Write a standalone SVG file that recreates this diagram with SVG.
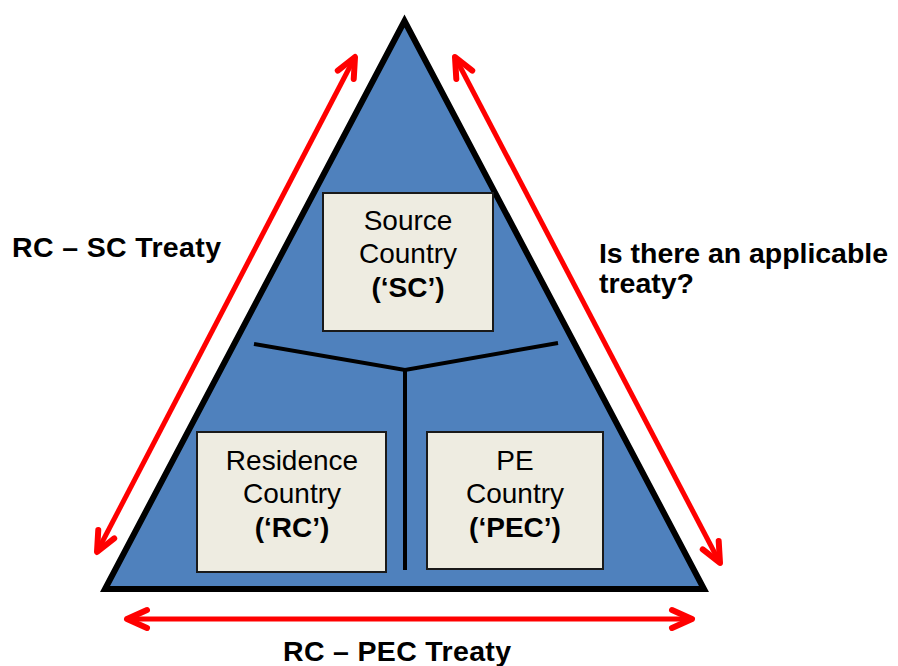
<svg xmlns="http://www.w3.org/2000/svg" width="898" height="666" viewBox="0 0 898 666">
<style>
.box{fill:#EEECE1;stroke:#1a1a1a;stroke-width:2}
.bt{font-family:"Liberation Sans",Arial,sans-serif;font-size:28px;fill:#000;text-anchor:middle}
.b{font-weight:bold}
.lbl{font-family:"Liberation Sans",Arial,sans-serif;font-size:28.5px;font-weight:bold;fill:#000}
.arr{stroke:#FF0000;stroke-width:5;fill:none;marker-start:url(#ah);marker-end:url(#ah)}
.div{stroke:#000;stroke-width:4;fill:none}
</style>
<defs>
<marker id="ah" markerUnits="userSpaceOnUse" viewBox="-30 -15 40 30" markerWidth="40" markerHeight="30" refX="0" refY="0" orient="auto-start-reverse" overflow="visible">
<path d="M-20,-9 L0,0 L-20,9" fill="none" stroke="#FF0000" stroke-width="6" stroke-linecap="round" stroke-linejoin="round"/>
</marker>
</defs>
<rect width="898" height="666" fill="#fff"/>
<g id="triangle">
<polygon points="404.5,21 105,589 704,589" fill="#4F81BD" stroke="#000" stroke-width="6" stroke-linejoin="miter"/>
</g>
<g id="connectors">
<polyline class="div" points="254,344 405,370 558,343"/>
<line class="div" x1="405" y1="370" x2="405" y2="570"/>
<line class="arr" x1="97" y1="552" x2="355" y2="57"/>
<line class="arr" x1="455" y1="57" x2="720" y2="563"/>
<line class="arr" x1="127" y1="619" x2="692" y2="619"/>
</g>
<g id="sc">
<rect class="box" x="323" y="193" width="170" height="138"/>
<text class="bt" x="408" y="230">Source</text>
<text class="bt" x="408" y="263">Country</text>
<text class="bt b" x="408" y="297">(‘SC’)</text>
</g>
<g id="rc">
<rect class="box" x="197" y="432" width="189" height="140"/>
<text class="bt" x="292" y="470">Residence</text>
<text class="bt" x="292" y="503">Country</text>
<text class="bt b" x="292" y="537">(‘RC’)</text>
</g>
<g id="pec">
<rect class="box" x="427" y="432" width="176" height="137"/>
<text class="bt" x="515" y="470">PE</text>
<text class="bt" x="515" y="503">Country</text>
<text class="bt b" x="515" y="537">(‘PEC’)</text>
</g>
<g id="labels">
<text class="lbl" x="12" y="257" textLength="209" lengthAdjust="spacing">RC – SC Treaty</text>
<text class="lbl" x="599" y="263" textLength="289" lengthAdjust="spacing">Is there an applicable</text>
<text class="lbl" x="599" y="293">treaty?</text>
<text class="lbl" x="283" y="661" textLength="228" lengthAdjust="spacing">RC – PEC Treaty</text>
</g>
</svg>
